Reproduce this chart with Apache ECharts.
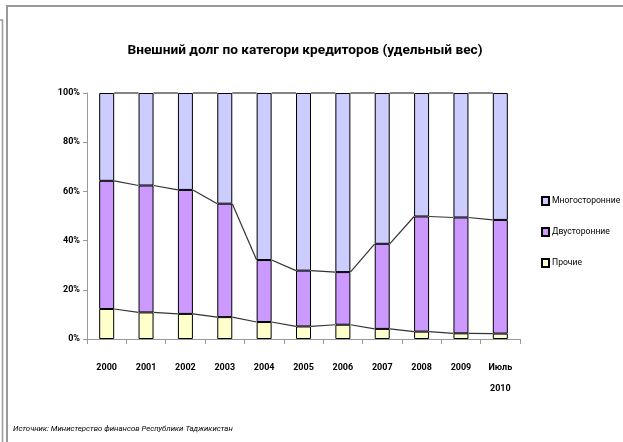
<!DOCTYPE html>
<html>
<head>
<meta charset="utf-8">
<script src="https://cdn.jsdelivr.net/npm/echarts@6/dist/echarts.min.js"></script>
<style>
html,body{margin:0;padding:0;background:#fff;}
#chart{width:623px;height:442px;}
</style>
</head>
<body>
<div id="chart"></div>
<script>
var categories = ['2000','2001','2002','2003','2004','2005','2006','2007','2008','2009','Июль\n2010'];
var prochie = [12.2, 10.8, 10.2, 8.9, 6.9, 5.1, 5.8, 4.1, 3.0, 2.3, 2.2];
var dvustoronnie = [52.1, 51.6, 50.4, 46.1, 25.2, 22.7, 21.4, 34.6, 46.8, 47.1, 46.2];
var mnogostoronnie = [35.7, 37.6, 39.4, 45.0, 67.9, 72.2, 72.8, 61.3, 50.2, 50.6, 51.6];
var yTicks = [0, 20, 40, 60, 80, 100];

var FONT = '"Roboto", "Liberation Sans", sans-serif';
var BAR_W = 15;

var chart = echarts.init(document.getElementById('chart'));

function seriesLines(params, api) {
  var i = params.dataIndex;
  if (i >= categories.length - 1) return null;
  var c1a = prochie[i], c1b = prochie[i + 1];
  var c2a = prochie[i] + dvustoronnie[i], c2b = prochie[i + 1] + dvustoronnie[i + 1];
  var c3a = c2a + mnogostoronnie[i], c3b = c2b + mnogostoronnie[i + 1];
  var pairs = [[c1a, c1b], [c2a, c2b], [c3a, c3b]];
  var children = pairs.map(function (p) {
    var a = api.coord([i, p[0]]);
    var b = api.coord([i + 1, p[1]]);
    return {
      type: 'line',
      shape: { x1: a[0] + BAR_W / 2, y1: a[1], x2: b[0] - BAR_W / 2, y2: b[1] },
      style: { stroke: '#333', lineWidth: 1.2 }
    };
  });
  return { type: 'group', children: children };
}

var option = {
  animation: false,
  backgroundColor: '#fff',
  title: {
    text: 'Внешний долг по категори кредиторов (удельный вес)',
    left: 300, top: 39, textAlign: 'center',
    textStyle: { fontFamily: FONT, fontSize: 13.7, fontWeight: 'bold', color: '#000' }
  },
  legend: {
    orient: 'vertical',
    left: 536, top: 191,
    itemWidth: 7, itemHeight: 8, itemGap: 21,
    icon: 'rect',
    data: ['Многосторонние', 'Двусторонние', 'Прочие'],
    textStyle: { fontFamily: FONT, fontSize: 8.6, color: '#000', padding: [0, 0, 0, -2] }
  },
  grid: { left: 87, right: 103, top: 93, bottom: 103, containLabel: false },
  xAxis: {
    type: 'category',
    data: categories,
    axisLine: { lineStyle: { color: '#999', width: 1 } },
    axisTick: { show: true, length: 5, lineStyle: { color: '#999' } },
    axisLabel: { fontFamily: FONT, fontSize: 9, fontWeight: 'bold', color: '#000', margin: 18, lineHeight: 21, interval: 0 }
  },
  yAxis: {
    type: 'value',
    min: 0, max: 100, interval: 20,
    axisLine: { show: true, lineStyle: { color: '#999', width: 1 } },
    axisTick: { show: true, length: 4, lineStyle: { color: '#999' } },
    splitLine: { show: false },
    axisLabel: {
      fontFamily: FONT, fontSize: 9, fontWeight: 'bold', color: '#000', margin: 7,
      formatter: function (v) { return yTicks.indexOf(v) >= 0 ? v + '%' : ''; }
    }
  },
  series: [
    {
      name: 'Прочие', type: 'bar', stack: 'total', barWidth: BAR_W,
      data: prochie,
      itemStyle: { color: '#FFFFCC', borderColor: '#000', borderWidth: 1 }
    },
    {
      name: 'Двусторонние', type: 'bar', stack: 'total', barWidth: BAR_W,
      data: dvustoronnie,
      itemStyle: { color: '#CC99FF', borderColor: '#000', borderWidth: 1 }
    },
    {
      name: 'Многосторонние', type: 'bar', stack: 'total', barWidth: BAR_W,
      data: mnogostoronnie,
      itemStyle: { color: '#CCCCFF', borderColor: '#000', borderWidth: 1 }
    },
    {
      name: 'lines', type: 'custom',
      renderItem: seriesLines,
      data: categories.map(function (c, i) { return i; }),
      silent: true, z: 3
    }
  ],
  graphic: [
    {
      type: 'text', left: 13, top: 425,
      style: {
        text: 'Источник: Министерство финансов Республики Таджикистан',
        font: 'italic 7.8px ' + FONT, fill: '#000'
      }
    },
    {
      type: 'polyline', silent: true,
      shape: { points: [[7, 442], [7, 6], [623, 6]] },
      style: { stroke: '#999', lineWidth: 2, fill: null }
    },
    {
      type: 'polyline', silent: true,
      shape: { points: [[0, 20], [2.5, 20], [2.5, 442]] },
      style: { stroke: '#999', lineWidth: 1.5, fill: null }
    }
  ]
};
chart.setOption(option);
</script>
</body>
</html>
